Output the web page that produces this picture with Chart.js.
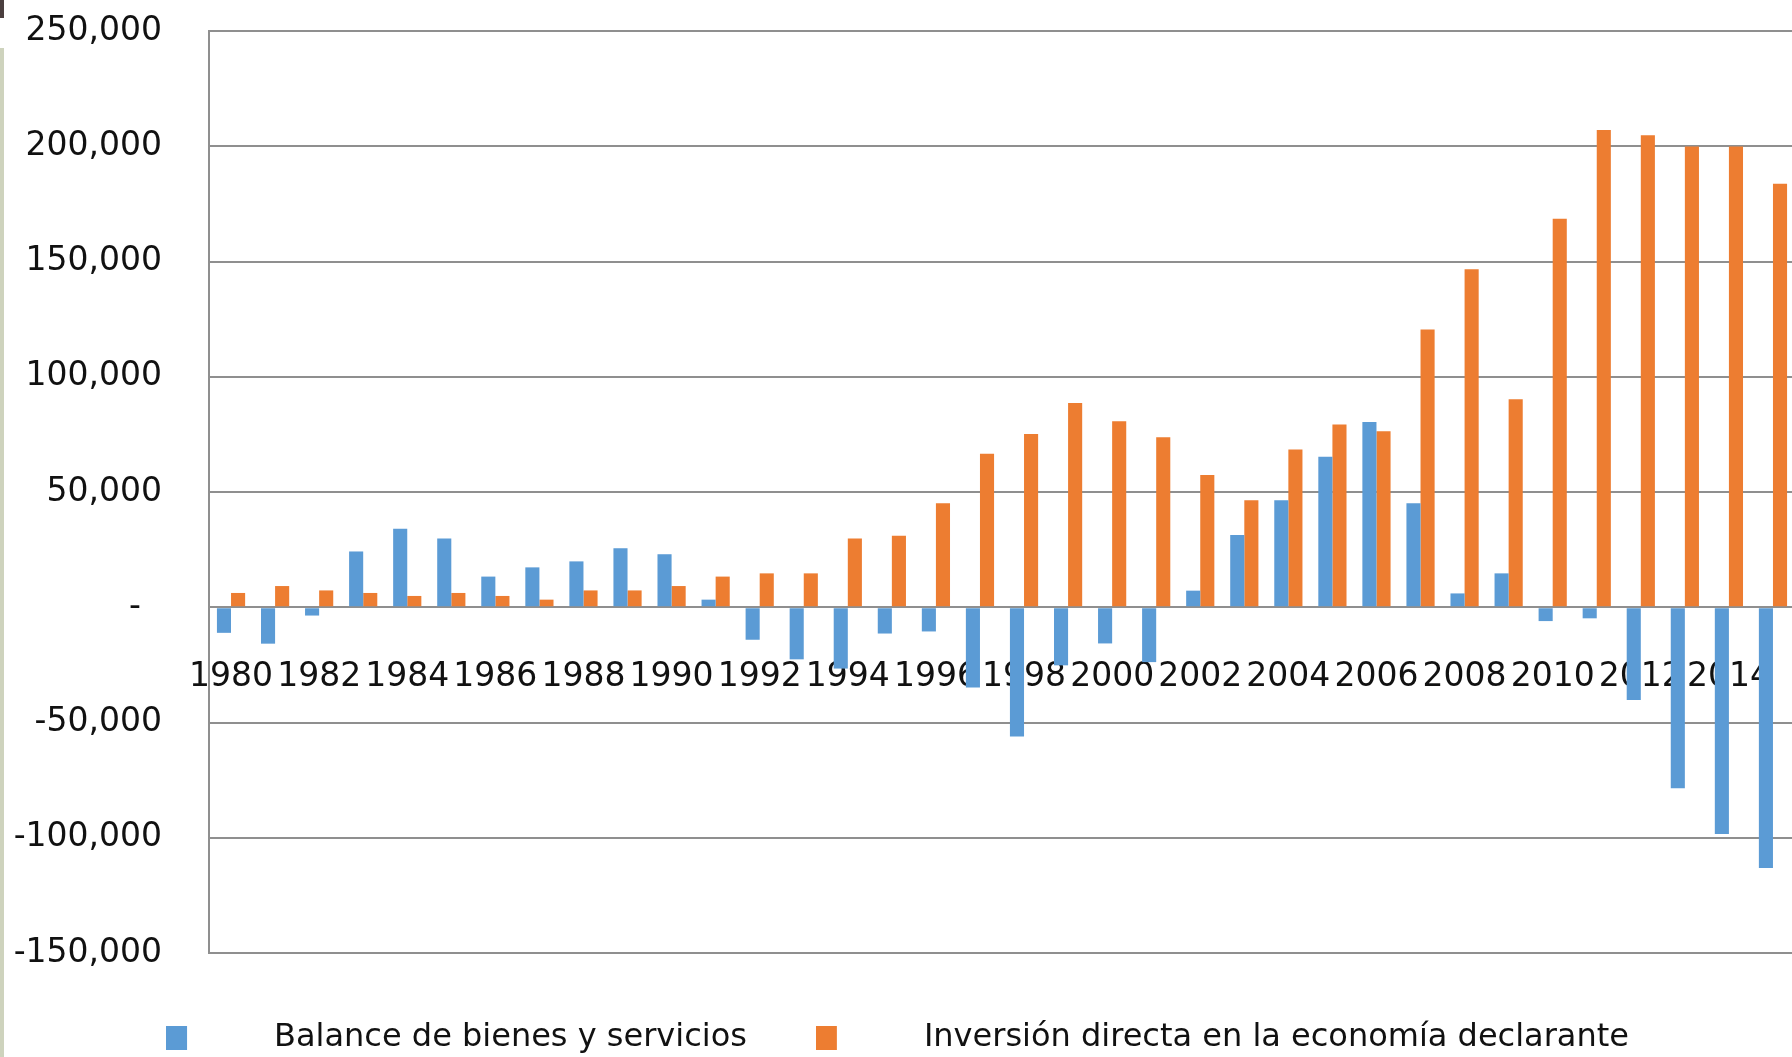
<!DOCTYPE html>
<html>
<head>
<meta charset="utf-8">
<script src="https://cdn.jsdelivr.net/npm/chart.js@4"></script>
<style>
    body { margin: 0; overflow: hidden; background: #fff; }
    #wrap { position: relative; width: 1792px; height: 1057px; overflow: hidden; }
    #myChart { position: absolute; left: 0; top: 0; }
    /* bits of the slide edge left in the crop */
    #corner { position: absolute; left: 0; top: 0; width: 4px; height: 18px; background: #4b3f3f; }
    #strip { position: absolute; left: 0; top: 48px; width: 4px; height: 1009px; background: #ced3bd; }
</style>
</head>
<body>
<div id="wrap">
    <canvas id="myChart" width="1800" height="1064"></canvas>
    <div id="corner"></div>
    <div id="strip"></div>
</div>
<script>
const ctx = document.getElementById('myChart').getContext('2d');

const years = ['1980', '1981', '1982', '1983', '1984', '1985', '1986', '1987', '1988', '1989',
    '1990', '1991', '1992', '1993', '1994', '1995', '1996', '1997', '1998', '1999',
    '2000', '2001', '2002', '2003', '2004', '2005', '2006', '2007', '2008', '2009',
    '2010', '2011', '2012', '2013', '2014', '2015'];

// Balance de bienes y servicios
const balance = [-11100, -15800, -3600, 24200, 34100, 29800, 13300, 17300, 19900, 25600,
    23000, 3300, -14100, -22600, -26600, -11400, -10500, -34800, -56100, -25200,
    -15700, -23800, 7200, 31300, 46400, 65300, 80400, 45100, 6000, 14700,
    -6000, -4800, -40200, -78500, -98400, -113100];

// Inversión directa en la economía declarante
const inversion = [6200, 9200, 7300, 6200, 4900, 6200, 4900, 3300, 7300, 7300,
    9200, 13300, 14700, 14700, 29800, 31000, 45100, 66600, 75200, 88600,
    80700, 73800, 57400, 46400, 68400, 79300, 76400, 120500, 146600, 90200,
    168600, 207100, 204800, 199900, 199900, 183700];

const seriesNames = ['Balance de bienes y servicios', 'Inversión directa en la economía declarante'];
const seriesColors = ['#5b9bd5', '#ed7d31'];
const yTicks = [-150000, -100000, -50000, 0, 50000, 100000, 150000, 200000, 250000];

const font = { family: 'DejaVu Sans', size: 33 };
const legendFont = { family: 'DejaVu Sans', size: 32 };
const gridColor = '#8f8f8f';

// legend marker: small box at the left of a wide blank area (Excel style gap)
function makeMarker(color) {
    let c = document.createElement('canvas');
    c.width = 92;
    c.height = 24;
    let g = c.getContext('2d');
    g.fillStyle = color;
    g.fillRect(0, 0, 21, 24);
    return c;
}
const markers = seriesColors.map(makeMarker);

const myChart = new Chart(ctx, {
    type: 'bar',
    data: {
        labels: years,
        datasets: [{
            label: seriesNames[0],
            data: balance,
            backgroundColor: seriesColors[0]
        }, {
            label: seriesNames[1],
            data: inversion,
            backgroundColor: seriesColors[1]
        }]
    },
    options: {
        responsive: false,
        animation: false,
        layout: {
            padding: { top: 31, right: 5, left: 0, bottom: 0 }
        },
        datasets: {
            bar: { categoryPercentage: 0.64, barPercentage: 1.0 }
        },
        scales: {
            x: {
                position: { y: 0 },
                // tick marks are hidden, their length only pushes the labels down
                grid: { display: false, drawTicks: true, tickLength: 50 },
                border: { display: true, color: gridColor, width: 2 },
                ticks: {
                    autoSkip: false,
                    maxRotation: 0,
                    minRotation: 0,
                    padding: 0,
                    color: '#111',
                    font: font,
                    callback: function (val, i) {
                        return i % 2 === 0 ? this.getLabelForValue(val) : '';
                    }
                }
            },
            y: {
                min: -150000,
                max: 250000,
                afterBuildTicks: axis => {
                    axis.ticks = yTicks.map(v => ({ value: v }));
                },
                afterFit: axis => {
                    axis.width = 209;
                },
                grid: { color: gridColor, lineWidth: 2, drawTicks: true, tickLength: 47, tickColor: 'rgba(0,0,0,0)' },
                border: { display: true, color: gridColor, width: 2 },
                ticks: {
                    padding: 0,
                    color: '#111',
                    font: font,
                    callback: value => value === 0 ? '-  ' : value.toLocaleString('en-US')
                }
            }
        },
        plugins: {
            tooltip: { enabled: false },
            legend: {
                position: 'bottom',
                labels: {
                    usePointStyle: true,
                    pointStyleWidth: 92,
                    padding: 69,
                    color: '#111',
                    font: legendFont,
                    generateLabels: chart => {
                        let items = Chart.defaults.plugins.legend.labels.generateLabels(chart);
                        items.forEach((item, i) => { item.pointStyle = markers[i]; });
                        return items;
                    }
                }
            }
        }
    }
});
</script>
</body>
</html>
